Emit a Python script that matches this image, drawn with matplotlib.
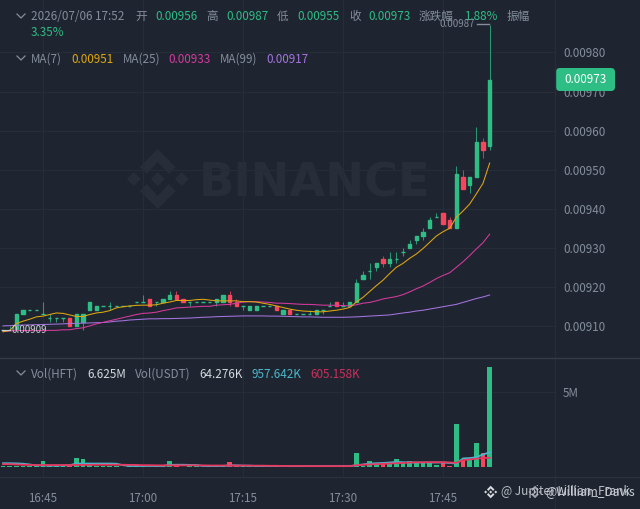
import matplotlib
matplotlib.use("Agg")
import matplotlib.pyplot as plt
import numpy as np
from matplotlib.patches import Polygon, FancyBboxPatch

plt.rcParams['font.family'] = ['Noto Sans CJK SC', 'DejaVu Sans']

# ---- data (prices in units of 0.00001) ----
opens = [909,909,909,913,914,914,913,912,912,912,
         912,910,911,914,914,915,915,915,915,915,
         916,916,917,916,916,917,918,917,916,916,
         916,916,916,916,918,916,915,914,914,915,
         915,915,913,914,913,913,913,913,914,915,
         916,915,915,916,922,924,925,927,926,927,
         929,930,932,933,935,938,939,937,935,948,
         946,948,957,956]
closes = [909,909,913,914,914,914,913,912,912,912,
          910,913,913,916,915,915,915,915,915,915,
          916,916,915,916,917,918,917,916,916,916,
          916,916,917,918,916,915,915,915,915,915,
          915,914,914,913,913,913,913,914,914,915,
          915,915,916,921,923,924,926,926,927,927,
          929,931,933,934,937,938,936,935,949,945,
          948,957,955,973]
highs = [909,910,913,914,914,914,916,913,912,912,
         912,913,913,916,915,915,916,915,915,915,
         916,918,917,916,917,919,919,917,916,916,
         916,916,917,918,919,917,915,915,915,915,
         915,915,914,914,913,913,914,914,914,916,
         916,916,916,922,924,926,926,928,929,929,
         930,932,933,935,938,939,939,938,951,950,
         948,961,958,987]
lows = [909,909,909,913,914,914,913,911,911,911,
        910,910,909,914,914,915,914,915,915,915,
        916,916,915,915,916,917,917,916,915,916,
        916,916,915,916,915,915,914,914,914,915,
        915,914,913,913,913,913,913,913,913,915,
        915,915,915,916,922,922,924,925,925,926,
        928,930,931,932,935,938,936,935,935,945,
        944,948,953,955]
ma7 = [908.5,908.8,910.6,911.2,911.7,912.3,912.5,912.9,913.3,913.2,
       912.8,912.4,912.4,912.9,913.3,913.5,913.9,914.6,914.9,915.1,
       915.25,915.3,915.3,915.4,915.8,916.1,916.5,916.5,916.5,916.7,
       916.8,916.6,916.4,916.4,916.4,916.4,916.2,916.2,916.1,915.8,
       915.5,915.1,914.7,914.3,914.0,913.8,913.7,913.6,913.6,913.8,
       914.0,914.3,914.7,916.1,917.3,918.8,920.3,921.7,923.4,925.0,
       926.0,927.3,928.4,929.8,931.4,933.0,934.1,935.0,937.8,939.4,
       941.2,943.8,946.5,951.7]
ma25 = [908.5,908.7,908.8,908.8,908.8,908.8,908.8,908.85,908.85,909.0,
        909.0,909.3,909.5,910.0,910.5,910.9,911.3,911.7,912.1,912.5,
        912.9,913.2,913.3,913.5,913.9,914.2,914.6,914.7,914.8,914.9,
        915.0,915.0,915.3,915.4,915.5,915.8,916.1,916.2,916.2,916.1,
        916.0,915.8,915.8,915.7,915.6,915.5,915.5,915.4,915.3,915.3,
        915.25,915.2,915.1,915.4,915.8,916.0,916.4,916.9,917.2,917.5,
        918.0,918.7,919.5,920.2,921.1,922.1,922.9,923.6,925.0,926.4,
        928.0,929.7,931.3,933.5]
ma99 = [910.0,910.05,910.15,910.2,910.25,910.3,910.35,910.4,910.45,910.5,
        910.6,910.65,910.7,910.75,910.8,910.85,911.0,911.2,911.3,911.5,
        911.6,911.7,911.8,911.8,911.85,911.85,911.9,911.95,912.0,912.1,
        912.2,912.25,912.35,912.4,912.45,912.5,912.55,912.55,912.55,912.55,
        912.5,912.5,912.45,912.4,912.35,912.3,912.3,912.25,912.2,912.2,
        912.2,912.2,912.25,912.3,912.4,912.5,912.6,912.7,912.8,913.05,
        913.3,913.5,913.8,914.0,914.3,914.6,914.9,915.2,915.5,916.0,
        916.5,917.0,917.4,917.9]
volumes = [.12,.10,.10,.10,.07,.07,.40,.12,.08,.08,
           .08,.62,.55,.15,.10,.10,.08,.10,.05,.10,
           .09,.07,.05,.10,.08,.40,.07,.06,.10,.07,
           .06,.08,.08,.10,.33,.10,.10,.11,.10,.07,
           .10,.10,.05,.08,.07,.08,.06,.10,.06,.08,
           .05,.08,.09,.95,.12,.46,.30,.20,.35,.55,
           .30,.46,.30,.30,.30,.15,.30,.10,2.90,.50,
           .50,1.60,.95,6.625]
vol_ma_blue = [.28,.28,.27,.25,.20,.14,.13,.12,.12,.13,
               .15,.26,.26,.26,.26,.26,.26,.25,.15,.10,
               .10,.10,.10,.10,.10,.17,.18,.18,.17,.16,
               .10,.10,.10,.10,.14,.14,.12,.12,.10,.10,
               .10,.10,.10,.09,.09,.09,.09,.09,.09,.09,
               .09,.09,.09,.15,.20,.26,.28,.30,.33,.37,
               .35,.33,.33,.33,.33,.33,.33,.30,.26,.60,
               .62,.68,.86,1.00]
vol_ma_red = [.22,.22,.20,.18,.17,.16,.16,.16,.16,.16,
              .16,.17,.17,.17,.18,.18,.18,.18,.18,.17,
              .17,.15,.15,.14,.14,.14,.14,.14,.14,.14,
              .14,.13,.13,.13,.13,.13,.13,.12,.12,.12,
              .11,.11,.10,.10,.10,.10,.09,.09,.09,.09,
              .09,.09,.09,.15,.18,.20,.22,.24,.26,.28,
              .30,.33,.34,.34,.35,.35,.35,.33,.31,.49,
              .53,.58,.62,.64]
price_ticks = [910,920,930,940,950,960,970,980]
time_tick_pos = [6,21,36,51,66]
time_labels = ['16:45','17:00','17:15','17:30','17:45']

BG = '#1f2530'
GRID = '#272d38'
GREEN = '#2ebd85'
RED = '#f6465d'
GRAY = '#848e9c'
W, H = 640, 509

fig = plt.figure(figsize=(W/100, H/100), dpi=100, facecolor=BG)
def rect(x0, y0, x1, y1):
    return [x0/W, 1-y1/H, (x1-x0)/W, (y1-y0)/H]

# background layer with watermark
bg = fig.add_axes([0,0,1,1], zorder=0)
bg.set_xlim(0,W); bg.set_ylim(H,0); bg.axis('off')

def logo(ax, cx, cy, s, color, **kw):
    pieces = [
        [(0,-30),(18,-12),(11,-5),(0,-17),(-11,-5),(-18,-12)],
        [(0,30),(18,12),(11,5),(0,17),(-11,5),(-18,12)],
        [(0,-7),(7,0),(0,7),(-7,0)],
        [(-24,-7),(-17,0),(-24,7),(-31,0)],
        [(24,-7),(31,0),(24,7),(17,0)],
    ]
    for p in pieces:
        ax.add_patch(Polygon([(cx+a*s, cy+b*s) for a,b in p], closed=True, fc=color, ec='none', **kw))

WM = '#282e39'
logo(bg, 157.7, 179, 1.0, WM)
bg.text(199, 179, 'BINANCE', family='DejaVu Sans', fontweight='bold', fontsize=33.4,
        color=WM, ha='left', va='center_baseline')

# main price panel
xlim = (-0.45, 82.8)
n = np.arange(len(opens))
ax = fig.add_axes(rect(0,0,555,358), zorder=1)
ax.patch.set_visible(False)
ax.set_xlim(*xlim)
ax.set_ylim(901.77, 993.44)
for s in ax.spines.values():
    s.set_visible(False)
ax.set_axisbelow(True)
ax.grid(True, color=GRID, lw=0.8)
ax.set_xticks(time_tick_pos)
ax.tick_params(axis='x', length=0, labelbottom=False)
ax.yaxis.tick_right()
ax.set_yticks(price_ticks)
ax.set_yticklabels([f'{v/1e5:.5f}' for v in price_ticks])
ax.tick_params(axis='y', length=0, pad=5.8, labelsize=8.4, labelcolor=GRAY)

colors = [GREEN if c >= o else RED for o, c in zip(opens, closes)]
ax.vlines(n, lows, highs, colors=colors, lw=0.75, alpha=0.75, zorder=2)
ax.bar(n, np.abs(np.array(closes)-np.array(opens)), bottom=np.minimum(opens, closes),
       width=0.5, color=colors, edgecolor=colors, lw=1.0, zorder=3)
ax.plot(n, ma99, color='#a374e0', lw=0.75, zorder=4)
ax.plot(n, ma25, color='#d63a9e', lw=0.75, zorder=4)
ax.plot(n, ma7, color='#e0a80e', lw=0.75, zorder=4)

# volume panel
vx = fig.add_axes(rect(0,358,555,477), zorder=1)
vx.patch.set_visible(False)
vx.set_xlim(*xlim)
vx.set_ylim(-0.63, 7.245)
for s in vx.spines.values():
    s.set_visible(False)
vx.set_axisbelow(True)
vx.grid(True, color=GRID, lw=0.8)
vx.set_xticks(time_tick_pos)
vx.set_xticklabels(time_labels)
vx.tick_params(axis='x', length=0, pad=11, labelsize=8.4, labelcolor=GRAY)
vx.yaxis.tick_right()
vx.set_yticks([5])
vx.set_yticklabels(['5M'])
vx.tick_params(axis='y', length=0, pad=5.8, labelsize=8.4, labelcolor=GRAY)
vx.bar(n, volumes, width=0.68, color=colors, lw=0, zorder=2)
vx.plot(n, vol_ma_blue, color='#4ab8cc', lw=1.3, zorder=3)
vx.plot(n, vol_ma_red, color='#e8365f', lw=1.3, zorder=4)

# overlay: dividers, labels
ov = fig.add_axes([0,0,1,1], zorder=5)
ov.patch.set_visible(False)
ov.set_xlim(0,W); ov.set_ylim(H,0); ov.axis('off')
DIV = '#2b313d'
ov.plot([555,555],[0,H], color=GRID, lw=1)
ov.plot([0,W],[358,358], color='#343a46', lw=1)
ov.plot([0,W],[477,477], color=DIV, lw=1)

def t(x, y, s, c=GRAY, fs=8.4, **kw):
    ov.text(x, y, s, color=c, fontsize=fs, ha=kw.pop('ha','left'), va='center', **kw)

def chevron(x, y):
    ov.plot([x-4,x,x+4],[y-2,y+2,y-2], color=GRAY, lw=0.9)

chevron(21, 16); chevron(21, 58); chevron(21, 373)
row = [(31,'2026/07/06 17:52',GRAY),(135,'开',GRAY),(155,'0.00956',GREEN),(206,'高',GRAY),
       (226,'0.00987',GREEN),(277,'低',GRAY),(297.5,'0.00955',GREEN),(349,'收',GRAY),
       (368,'0.00973',GREEN),(419,'涨跌幅',GRAY),(464,'1.88%',GREEN),(507,'振幅',GRAY)]
for x, s, c in row:
    t(x, 16, s, c)
t(31, 32, '3.35%', GREEN)
row = [(31,'MA(7)',GRAY),(71,'0.00951','#e0a80e'),(122.7,'MA(25)',GRAY),(168.7,'0.00933','#d63a9e'),
       (220,'MA(99)',GRAY),(266.7,'0.00917','#a374e0')]
for x, s, c in row:
    t(x, 59, s, c)
row = [(31,'Vol(HFT)',GRAY),(87,'6.625M','#d5d9e0'),(135,'Vol(USDT)',GRAY),(199,'64.276K','#d5d9e0'),
       (251,'957.642K','#4ab8cc'),(310.7,'605.158K','#cc2f5c')]
for x, s, c in row:
    t(x, 374, s, c)

# high / low annotations
t(439, 24, '0.00987', '#848e9c', fs=7)
ov.plot([477,489],[24,24], color=GRAY, lw=1)
t(12, 330, '0.00909', '#c9ccd2', fs=7)
ov.plot([2,10],[330,330], color='#c9ccd2', lw=0.8)

# last price badge
ov.add_patch(FancyBboxPatch((559,71), 53, 17, boxstyle='round,pad=3,rounding_size=4',
                            fc=GREEN, ec='none'))
t(585.7, 79.5, '0.00973', 'white', ha='center')

# source watermarks
logo(ov, 490.7, 492, 0.21, '#d8dbe0')
t(501, 492, '@ Jupiter Lillian_Frank', '#b9bdc5', fs=8.6)
logo(ov, 535, 492, 0.21, '#c0c4cc', alpha=0.8)
t(545, 492, '@William_Davis', '#c9ccd2', fs=8.6)

fig.savefig('out.png', dpi=100, facecolor=BG)
